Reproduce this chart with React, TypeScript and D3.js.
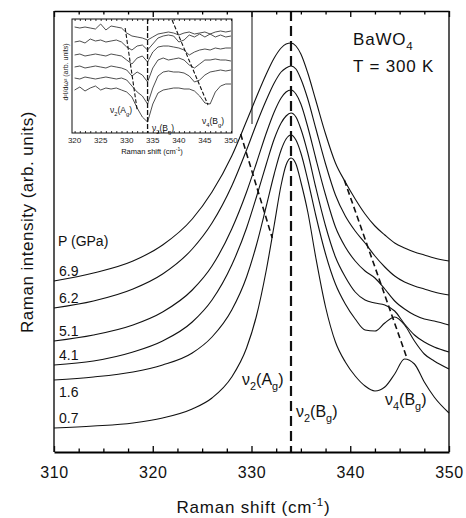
import { useEffect, useRef } from 'react'
import * as d3 from 'd3'

// Raman shift grid (cm-1) shared by the six spectra
const shifts = [310, 314, 318, 321, 324, 326, 328, 329.5, 330.5, 331.5, 332.3, 333, 333.5, 334, 334.5, 335, 335.7, 336.5, 337.5, 338.5, 339.5, 340.5, 341.5, 342.5, 343.5, 344.5, 345.5, 346.5, 347.5, 348.5, 350]

// Raman intensity (arb. units, curves stacked with offsets), bottom to top
const p07 = [24, 26, 29, 34, 43, 54, 75, 104, 136, 182, 227, 267, 287, 294, 288, 270, 240, 195, 145, 110, 90, 76, 66, 61, 65, 78, 93, 88, 70, 55, 39]
const p16 = [72, 75, 80, 87, 99, 115, 142, 175, 207, 246, 278, 302, 313, 317, 312, 299, 272, 237, 198, 168, 148, 133, 122, 121, 129, 135, 127, 111, 98, 91, 83]
const p41 = [87, 91, 100, 111, 130, 152, 187, 224, 255, 288, 313, 329, 336, 339, 335, 323, 299, 265, 226, 195, 175, 160, 152, 149, 147, 141, 128, 117, 110, 105, 100]
const p51 = [111, 117, 127, 140, 162, 186, 223, 260, 289, 319, 340, 354, 360, 362, 358, 348, 325, 294, 257, 225, 205, 191, 181, 174, 163, 151, 143, 137, 133, 131, 127]
const p62 = [144, 151, 163, 178, 203, 229, 266, 302, 328, 352, 369, 380, 384, 386, 383, 373, 353, 324, 288, 257, 236, 221, 209, 196, 185, 176, 170, 166, 163, 160, 157]
const p69 = [171, 179, 191, 207, 233, 260, 296, 331, 355, 378, 394, 404, 408, 409, 406, 398, 379, 352, 318, 289, 270, 253, 238, 226, 217, 209, 204, 200, 197, 194, 191]

const pressures = ['0.7', '1.6', '4.1', '5.1', '6.2', '6.9']
const spectra = [p07, p16, p41, p51, p62, p69]

// guide lines [shift, intensity] pairs
const nu2Bg = 334
const nu2AgGuide = [[328.9, 318], [332.1, 214]]
const nu4BgGuide = [[339.4, 272], [345.7, 95]]

// inset: second derivative d2I/dw2, deviation from each trace's offset
const insetShifts = [320, 321, 322, 323, 324, 325, 326, 327, 328, 329, 330, 331, 332, 333, 334, 335, 336, 337, 338, 339, 340, 341, 342, 343, 344, 345, 346, 347, 348, 349, 350]
const insetOffsets = [106, 91, 78, 66, 55, 43]
const d2a = [0, -1, 0, -1, -2, 3, -3, 1, 0, -1, -6, -9, -10, -11, -13, -10, -7, -6, -5, -6, -8, -6, -5, -7, -6, -5, -7, -5, -4, -5, -4]
const d2b = [0, 1, -1, 3, 1, 2, 0, 1, 2, 0, -5, -8, -4, -3, -8, -2, 4, 6, 7, 6, 0, 2, 7, 5, 8, 5, 8, 5, 7, 5, 6]
const d2c = [0, 1, -1, 0, 1, 0, -1, 1, 0, -1, -5, -9, -3, -1, -7, 3, 8, 9, 9, 8, 7, 5, 0, 3, 5, 6, 5, 7, 6, 7, 7]
const d2d = [0, 1, -1, 0, 1, 0, -1, 1, 0, -1, -3, -9, -5, -8, -15, -1, 7, 9, 7, 8, 9, 7, 2, -1, 3, 7, 7, 8, 7, 7, 6]
const d2e = [0, -1, 1, 0, -1, 0, 1, 0, -1, 0, -2, -8, -14, -18, -26, -10, 2, 6, 7, 6, 6, 5, 2, -4, -2, 3, 6, 7, 8, 7, 8]
const d2f = [0, 3, -1, 2, 4, 0, 2, 1, 2, 0, -2, -7, -18, -27, -32, -14, -3, 0, 1, 2, 2, 1, 1, -1, -6, -13, -14, -2, 4, 6, 6]
const insetTraces = [d2a, d2b, d2c, d2d, d2e, d2f]
const insetAgGuide = [[329.7, 105], [332.0, 23]]
const insetNu4Guide = [[338.7, 113], [345.6, 28]]
const insetTickLabels = [320, 325, 330, 335, 340, 345, 350]

const FONT = '"Liberation Sans", Arial, Helvetica, sans-serif'

type Part = [string, 'n' | 'sub' | 'sup']

function richText(parent: any, x: number, y: number, parts: Part[], size: number, anchor = 'start') {
  const t = parent.append('text')
    .attr('x', x).attr('y', y)
    .attr('font-size', size)
    .attr('text-anchor', anchor)
    .attr('fill', '#111')
  let shift = 0
  parts.forEach(([s, kind]) => {
    const target = kind === 'sub' ? size * 0.3 : kind === 'sup' ? -size * 0.42 : 0
    const sp = t.append('tspan').attr('dy', target - shift).text(s)
    if (kind !== 'n') sp.attr('font-size', size * 0.68)
    shift = target
  })
  return t
}

export default function App() {
  const svgRef = useRef<SVGSVGElement>(null)

  useEffect(() => {
    if (!svgRef.current) return
    const svg = d3.select(svgRef.current)
    svg.selectAll('*').remove()
    svg.attr('font-family', FONT)

    const left = 54, right = 449, top = 11, bottom = 452
    const x = d3.scaleLinear().domain([310, 350]).range([left, right])
    const y = d3.scaleLinear().domain([0, 441]).range([bottom, top])

    const g = svg.append('g')

    // spectra
    const line = d3.line<number>()
      .x((_, i) => x(shifts[i]))
      .y(d => y(d))
      .curve(d3.curveMonotoneX)
    spectra.forEach(s => {
      g.append('path')
        .attr('d', line(s))
        .attr('fill', 'none')
        .attr('stroke', '#111')
        .attr('stroke-width', 1.1)
    })

    // guides
    g.append('line')
      .attr('x1', x(nu2Bg)).attr('x2', x(nu2Bg))
      .attr('y1', top).attr('y2', bottom)
      .attr('stroke', '#111').attr('stroke-width', 2.2).attr('stroke-dasharray', '10,5')
    const guide = d3.line<number[]>().x(d => x(d[0])).y(d => y(d[1]))
    ;[nu2AgGuide, nu4BgGuide].forEach(pts => {
      g.append('path').attr('d', guide(pts)).attr('fill', 'none')
        .attr('stroke', '#111').attr('stroke-width', 1.6).attr('stroke-dasharray', '6,3.5')
    })

    // axes
    const majors = [310, 320, 330, 340, 350]
    const minors = d3.range(310, 350.001, 2.5).filter(t => t % 10 !== 0)
    const bAxis = g.append('g').attr('transform', `translate(0,${bottom})`)
      .call(d3.axisBottom(x).tickValues(majors).tickSize(-6).tickSizeOuter(0).tickPadding(15).tickFormat(d3.format('d')))
    bAxis.select('.domain').attr('stroke-width', 2)
    bAxis.selectAll('.tick line').attr('stroke-width', 1.3)
    bAxis.selectAll('.tick text').attr('font-size', 16).attr('font-family', FONT).attr('fill', '#111').attr('letter-spacing', 0.6)
    const bMinor = g.append('g').attr('transform', `translate(0,${bottom})`)
      .call(d3.axisBottom(x).tickValues(minors).tickSize(-3.5).tickFormat(() => ''))
    bMinor.select('.domain').remove()
    bMinor.selectAll('.tick line').attr('stroke-width', 1.3)

    const tAxis = g.append('g').attr('transform', `translate(0,${top})`)
      .call(d3.axisTop(x).tickValues(majors).tickSize(-6).tickSizeOuter(0).tickFormat(() => ''))
    tAxis.select('.domain').attr('stroke-width', 1.6)
    tAxis.selectAll('.tick line').attr('stroke-width', 1.3)
    const tMinor = g.append('g').attr('transform', `translate(0,${top})`)
      .call(d3.axisTop(x).tickValues(minors).tickSize(-3.5).tickFormat(() => ''))
    tMinor.select('.domain').remove()
    tMinor.selectAll('.tick line').attr('stroke-width', 1.3)

    g.append('line').attr('x1', left).attr('x2', left).attr('y1', top).attr('y2', bottom)
      .attr('stroke', '#111').attr('stroke-width', 1.4)
    g.append('line').attr('x1', right).attr('x2', right).attr('y1', top).attr('y2', bottom)
      .attr('stroke', '#111').attr('stroke-width', 1.4)

    // axis titles
    richText(g, (left + right) / 2 + 2, 513, [['Raman shift (cm', 'n'], ['-1', 'sup'], [')', 'n']], 17, 'middle')
      .attr('letter-spacing', 0.8)
    g.append('text')
      .attr('transform', `translate(33,222) rotate(-90)`)
      .attr('text-anchor', 'middle')
      .attr('font-size', 17)
      .attr('letter-spacing', 0.5)
      .attr('fill', '#111')
      .text('Raman intensity (arb. units)')

    // pressure labels
    g.append('text').attr('x', 58).attr('y', 246).attr('font-size', 14).attr('fill', '#111').text('P (GPa)')
    pressures.forEach((p, i) => {
      const dy = p === '1.6' ? 17 : -5
      g.append('text')
        .attr('x', 59).attr('y', y(spectra[i][0]) + dy)
        .attr('font-size', 14).attr('fill', '#111')
        .text(p)
    })

    // mode labels
    richText(g, 242, 385, [['ν', 'n'], ['2', 'sub'], ['(A', 'n'], ['g', 'sub'], [')', 'n']], 16)
    richText(g, 296, 417, [['ν', 'n'], ['2', 'sub'], ['(B', 'n'], ['g', 'sub'], [')', 'n']], 16)
    richText(g, 385, 405, [['ν', 'n'], ['4', 'sub'], ['(B', 'n'], ['g', 'sub'], [')', 'n']], 16)

    richText(g, 353, 45, [['BaWO', 'n'], ['4', 'sub']], 17).attr('letter-spacing', 0.8)
    richText(g, 353, 72, [['T = 300 K', 'n']], 17).attr('letter-spacing', 0.8)

    // ---- inset ----
    const ix = d3.scaleLinear().domain([319.5, 350.2]).range([72, 232])
    const iy = d3.scaleLinear().domain([0, 114]).range([133, 19])
    const ins = svg.append('g')

    ins.append('line').attr('x1', 252).attr('x2', 252).attr('y1', top).attr('y2', 124)
      .attr('stroke', '#111').attr('stroke-width', 1)

    const iline = d3.line<number>()
      .x((_, i) => ix(insetShifts[i]))
      .y(d => d)
    insetTraces.forEach((tr, k) => {
      const ys = tr.map(v => iy(insetOffsets[k] + v))
      ins.append('path').attr('d', iline(ys)).attr('fill', 'none')
        .attr('stroke', '#222').attr('stroke-width', 0.8)
    })

    ins.append('line').attr('x1', ix(nu2Bg)).attr('x2', ix(nu2Bg)).attr('y1', 19).attr('y2', 133)
      .attr('stroke', '#111').attr('stroke-width', 1.3).attr('stroke-dasharray', '5,2')
    const iguide = d3.line<number[]>().x(d => ix(d[0])).y(d => iy(d[1]))
    ;[insetAgGuide, insetNu4Guide].forEach(pts => {
      ins.append('path').attr('d', iguide(pts)).attr('fill', 'none')
        .attr('stroke', '#111').attr('stroke-width', 1.1).attr('stroke-dasharray', '4,2')
    })

    ins.append('rect').attr('x', 72).attr('y', 19).attr('width', 160).attr('height', 114)
      .attr('fill', 'none').attr('stroke', '#111').attr('stroke-width', 1)

    const iTicks = d3.range(320, 350.001, 1)
    const ib = ins.append('g').attr('transform', 'translate(0,133)')
      .call(d3.axisBottom(ix).tickValues(iTicks).tickSize(-2).tickSizeOuter(0).tickFormat(() => ''))
    ib.select('.domain').remove()
    ib.selectAll('.tick line').attr('stroke-width', 0.8)
    const it = ins.append('g').attr('transform', 'translate(0,19)')
      .call(d3.axisTop(ix).tickValues(iTicks).tickSize(-2).tickSizeOuter(0).tickFormat(() => ''))
    it.select('.domain').remove()
    it.selectAll('.tick line').attr('stroke-width', 0.8)

    insetTickLabels.forEach(t => {
      ins.append('text').attr('x', ix(t)).attr('y', 143)
        .attr('text-anchor', 'middle').attr('font-size', 8).attr('fill', '#222').text(t)
    })
    richText(ins, 152, 154, [['Raman shift (cm', 'n'], ['-1', 'sup'], [')', 'n']], 7.5, 'middle')
    ins.append('text')
      .attr('transform', 'translate(68,72) rotate(-90)')
      .attr('text-anchor', 'middle').attr('font-size', 7).attr('fill', '#222')
      .text('d²I/dω² (arb. units)')

    richText(ins, 110, 113, [['ν', 'n'], ['2', 'sub'], ['(A', 'n'], ['g', 'sub'], [')', 'n']], 8.5)
    richText(ins, 152, 131, [['ν', 'n'], ['2', 'sub'], ['(B', 'n'], ['g', 'sub'], [')', 'n']], 8.5)
    richText(ins, 202, 124, [['ν', 'n'], ['4', 'sub'], ['(B', 'n'], ['g', 'sub'], [')', 'n']], 8.5)
  }, [])

  return (
    <svg
      ref={svgRef}
      width={466}
      height={518}
      style={{ position: 'absolute', left: 0, top: 0, background: '#fff' }}
    />
  )
}
